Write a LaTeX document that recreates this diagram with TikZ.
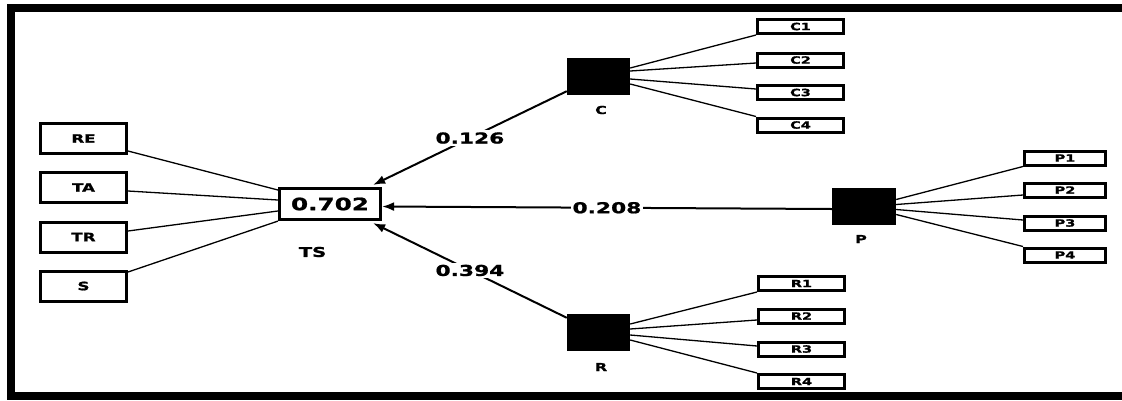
\documentclass[tikz,border=0pt]{standalone}
\usepackage{fontspec}
\newfontfamily\lab[FakeStretch=1.45, FakeBold=1.2]{DejaVu Sans Bold}
\usetikzlibrary{arrows.meta}
\begin{document}
\begin{tikzpicture}[x=1pt,y=-1pt,
  ind/.style={draw, line width=3pt, inner sep=0pt, minimum width=86pt, minimum height=30pt, font=\lab\fontsize{11.5}{11.5}\selectfont},
  sind/.style={draw, line width=3pt, inner sep=0pt, minimum width=86pt, minimum height=14pt, font=\lab\fontsize{10}{10}\selectfont},
  lv/.style={fill=black, inner sep=0pt, minimum width=63pt, minimum height=37pt},
  lvlab/.style={font=\lab\fontsize{11}{11}\selectfont, inner sep=0pt},
  thin/.style={line width=1.3pt},
  path/.style={line width=2pt, -{Latex[length=12pt,width=9pt]}},
  coef/.style={fill=white, inner sep=2pt, font=\lab\fontsize{15}{15}\selectfont}
]
\useasboundingbox (0,0) rectangle (1122,400);
\fill[white] (0,0) rectangle (1122,400);
% frame
\fill[black] (7,4) rectangle (15,400);
\fill[black] (7,4) rectangle (1122,12);
\fill[black] (7,392) rectangle (1122,400);

% TS block
\node[ind] (RE) at (83.5,138.5) {RE};
\node[ind] (TA) at (83.5,187.5) {TA};
\node[ind] (TR) at (83.5,237) {TR};
\node[ind] (S)  at (83.5,286) {S};
\node[draw, line width=3.2pt, inner sep=0pt, minimum width=101pt, minimum height=31pt,
      font=\lab\fontsize{17}{17}\selectfont] (TS) at (330,204) {0.702};
\node[lvlab, font=\lab\fontsize{13.5}{13.5}\selectfont] (TSl) at (312.5,252) {TS};

\draw[thin] ([yshift=-12.5pt]RE.east) -- ([yshift=14pt]TS.west);
\draw[thin] ([yshift=-3.5pt]TA.east) -- ([yshift=4pt]TS.west);
\draw[thin] ([yshift=6pt]TR.east) -- ([yshift=-7pt]TS.west);
\draw[thin] ([yshift=14pt]S.east) -- (TS.south west);

% C block
\node[lv] (C) at (598.5,76.5) {};
\node[lvlab] (Cl) at (601,110) {C};
\node[sind] (C1) at (800.5,26.5) {C1};
\node[sind] (C2) at (800.5,60) {C2};
\node[sind] (C3) at (800.5,92.5) {C3};
\node[sind] (C4) at (800.5,125) {C4};
\draw[thin] ([yshift=8.5pt]C.east) -- (C1.south west);
\draw[thin] ([yshift=5.5pt]C.east) -- ([yshift=-3pt]C2.west);
\draw[thin] ([yshift=-2.5pt]C.east) -- ([yshift=3.5pt]C3.west);
\draw[thin] ([yshift=-7.5pt]C.east) -- (C4.north west);

% P block
\node[lv, minimum width=64pt] (P) at (864,206.5) {};
\node[lvlab] (Pl) at (861,239) {P};
\node[sind, minimum width=81pt] (P1) at (1065,158) {P1};
\node[sind, minimum width=81pt] (P2) at (1065,190) {P2};
\node[sind, minimum width=81pt] (P3) at (1065,223) {P3};
\node[sind, minimum width=81pt] (P4) at (1065,255) {P4};
\draw[thin] ([yshift=7pt]P.east) -- (P1.south west);
\draw[thin] ([yshift=2pt]P.east) -- ([yshift=-5pt]P2.west);
\draw[thin] ([yshift=-3pt]P.east) -- ([yshift=3pt]P3.west);
\draw[thin] ([yshift=-8pt]P.east) -- (P4.north west);

% R block
\node[lv] (R) at (598.5,332.5) {};
\node[lvlab] (Rl) at (601,367) {R};
\node[sind] (R1) at (801.5,283.5) {R1};
\node[sind] (R2) at (801.5,316) {R2};
\node[sind] (R3) at (801.5,349) {R3};
\node[sind] (R4) at (801.5,381.5) {R4};
\draw[thin] ([yshift=8.5pt]R.east) -- (R1.south west);
\draw[thin] ([yshift=3.5pt]R.east) -- ([yshift=-4pt]R2.west);
\draw[thin] ([yshift=-2.5pt]R.east) -- ([yshift=3pt]R3.west);
\draw[thin] ([yshift=-7.5pt]R.east) -- (R4.north west);

% structural paths
\draw[path] ([yshift=4pt]C.south west) -- node[coef] {0.126} ([xshift=-9pt,yshift=2pt]TS.north east);
\draw[path] ([yshift=-2.5pt]P.west) -- node[coef] {0.208} ([yshift=-2.5pt]TS.east);
\draw[path] ([yshift=-4pt]R.north west) -- node[coef] {0.394} ([xshift=-9pt,yshift=-2pt]TS.south east);
\end{tikzpicture}
\end{document}
